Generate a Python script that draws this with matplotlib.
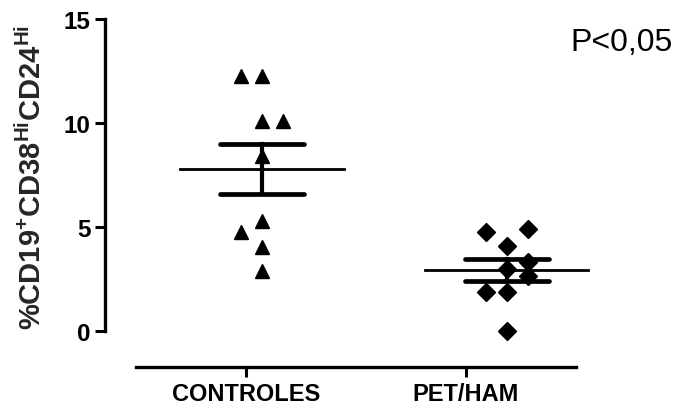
import numpy as np
import matplotlib.pyplot as plt

plt.rcParams['font.family'] = ['Liberation Sans', 'DejaVu Sans']
plt.rcParams['mathtext.fontset'] = 'custom'
plt.rcParams['mathtext.rm'] = 'Liberation Sans:bold'
plt.rcParams['mathtext.bf'] = 'Liberation Sans:bold'

groups = ['CONTROLES', 'PET/HAM']
controles = [12.27, 12.27, 10.11, 10.11, 8.43, 5.30, 4.74, 4.02, 2.90]
pet_ham = [4.74, 4.90, 4.10, 2.98, 3.33, 2.63, 1.86, 1.86, 0.0]
yticks = [0, 5, 10, 15]
p_text = 'P<0,05'

# column slot for each point (scatter spread, like prism)
ctrl_slot = [-1, 0, 0, 1, 0, 0, -1, 0, 0]
pet_slot = [-1, 1, 0, 0, 1, 1, -1, 0, 0]
slot_w = 0.086
group_x = [1, 2]
tick_x = [0.935, 1.833]

fig = plt.figure(figsize=(6.81, 4.10), dpi=100)
ax = fig.add_axes([105/681, 42/410, 495/681, 348/410])

for gx, vals, slots, mk, ms in [(group_x[0], controles, ctrl_slot, '^', 9.5),
                                (group_x[1], pet_ham, pet_slot, 'D', 8.8)]:
    vals = np.array(vals)
    xs = gx + np.array(slots) * slot_w
    ax.plot(xs, vals, linestyle='none', marker=mk, ms=ms, color='black',
            clip_on=False, zorder=3)
    m = vals.mean()
    sem = vals.std(ddof=1) / np.sqrt(len(vals))
    ax.plot([gx - 0.333, gx + 0.333], [m, m], color='black', lw=2, zorder=4)
    ax.plot([gx - 0.17, gx + 0.17], [m + sem, m + sem], color='black', lw=3.4,
            solid_capstyle='round', zorder=4)
    ax.plot([gx - 0.17, gx + 0.17], [m - sem, m - sem], color='black', lw=3.4,
            solid_capstyle='round', zorder=4)
    ax.plot([gx, gx], [m - sem, m + sem], color='black', lw=3, zorder=4)

ax.set_xlim(0.359, 2.38)
ax.set_ylim(-1.73, 15)
ax.spines['top'].set_visible(False)
ax.spines['right'].set_visible(False)
ax.spines['left'].set_linewidth(2.4)
ax.spines['bottom'].set_linewidth(2.4)
ax.spines['left'].set_bounds(0, 15)
ax.spines['bottom'].set_bounds(0.486, 2.282)

ax.set_yticks(yticks)
ax.set_yticklabels([str(t) for t in yticks], fontsize=17.5, fontweight='bold')
ax.set_xticks(tick_x)
ax.set_xticklabels(groups, fontsize=17, fontweight='bold')
ax.tick_params(axis='y', length=7, width=2.2, pad=3.5)
ax.tick_params(axis='x', length=7, width=2.2, pad=4)

ax.set_ylabel(r'%CD19$^{\mathbf{+}}$CD38$^{\mathbf{Hi}}$CD24$^{\mathbf{Hi}}$',
              fontsize=21, fontweight='bold', color='#262626')
ax.yaxis.set_label_coords(-0.118, 0.546)

fig.text(570/681, 1 - 51/410, p_text, fontsize=23, ha='left', va='baseline')

fig.savefig('out.png', dpi=100)
